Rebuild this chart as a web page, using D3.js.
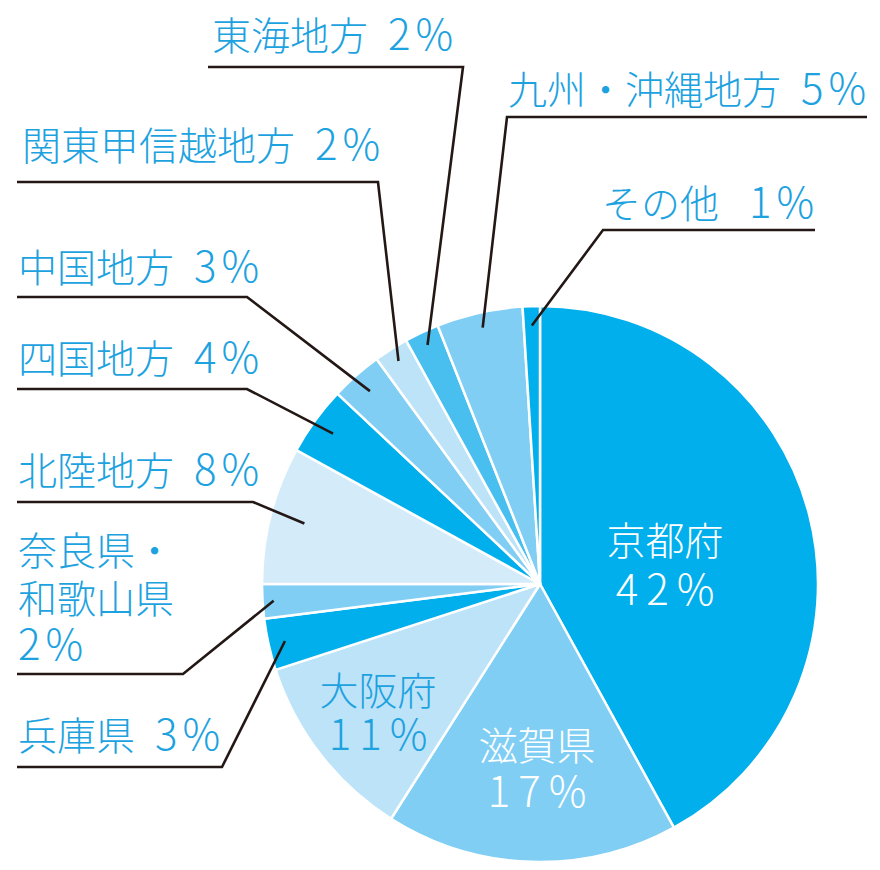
<!DOCTYPE html>
<html>
<head>
<meta charset="utf-8">
<script src="https://cdn.jsdelivr.net/npm/d3@7"></script>
<style>
  body { margin: 0; background: #fff; }
  text { font-family: "Noto Sans CJK JP", "Noto Sans", sans-serif; font-weight: 300; white-space: pre; }
</style>
</head>
<body>
<div id="pie"></div>
<script>
// data
const categories = ["京都府", "滋賀県", "大阪府", "兵庫県", "奈良県・和歌山県", "北陸地方",
                    "四国地方", "中国地方", "関東甲信越地方", "東海地方", "九州・沖縄地方", "その他"];
const values = [42, 17, 11, 3, 2, 8, 4, 3, 2, 2, 5, 1];
const colors = ["#00afec", "#80cef4", "#bde3f8", "#00afec", "#80cef4", "#d4ebf9",
                "#00afec", "#80cef4", "#bde3f8", "#48bfef", "#80cef4", "#00afec"];

const width = 880,
      height = 870,
      cx = 540, cy = 584,
      radius = 278,
      fontSize = 39,
      pctSize = 42;

// label layout: inside labels (x, y of first baseline) or leader labels
const layout = {
  "京都府":   { inside: true, x: 665, y: 555, gap: 50, fill: "#fff" },
  "滋賀県":   { inside: true, x: 537, y: 760, gap: 47, fill: "#fff" },
  "大阪府":   { inside: true, x: 378, y: 705, gap: 45, fill: "#1da2e0" },
  "兵庫県":   { tx: 18,  ty: 750, lineY: 767, elbowX: 222, endX: 17,  r: 0.94 },
  "奈良県・和歌山県": { tx: 18, ty: 565, lineY: 674, elbowX: 183, endX: 17, r: 0.96,
                 lines: ["奈良県・", "和歌山県"], gap: 47.5 },
  "北陸地方": { tx: 18,  ty: 485, lineY: 502, elbowX: 253, endX: 17,  r: 0.875 },
  "四国地方": { tx: 18,  ty: 373, lineY: 389, elbowX: 247, endX: 17,  r: 0.92 },
  "中国地方": { tx: 18,  ty: 282, lineY: 297, elbowX: 247, endX: 17,  r: 0.925 },
  "関東甲信越地方": { tx: 22, ty: 160, lineY: 182, elbowX: 378, endX: 17, r: 0.95 },
  "東海地方": { tx: 212, ty: 50,  lineY: 67,  elbowX: 463, endX: 208, r: 0.95 },
  "九州・沖縄地方": { tx: 508, ty: 104, lineY: 117, elbowX: 507, endX: 867, r: 0.945 },
  "その他":   { tx: 602, ty: 218, lineY: 230, elbowX: 603, endX: 815, r: 0.93, gapX: 30 }
};

const data = categories.map((c, i) => ({ name: c, value: values[i], color: colors[i] }));

let svg = d3.select("#pie")
    .append("svg")
    .attr("width", width)
    .attr("height", height);

let pie = d3.pie()
    .sort(null)
    .value(d => d.value);

let arc = d3.arc()
    .innerRadius(0)
    .outerRadius(radius);

let arcs = pie(data);

let g = svg.append("g")
    .attr("transform", `translate(${cx},${cy})`);

// slices
g.selectAll("path.slice")
    .data(arcs)
    .join("path")
    .attr("class", "slice")
    .attr("d", arc)
    .attr("fill", d => d.data.color)
    .attr("stroke", "#fff")
    .attr("stroke-width", 2.5)
    .attr("stroke-linejoin", "round");

// leader lines
let outside = arcs.filter(d => !layout[d.data.name].inside);

svg.selectAll("path.leader")
    .data(outside)
    .join("path")
    .attr("class", "leader")
    .attr("fill", "none")
    .attr("stroke", "#231815")
    .attr("stroke-width", 2.6)
    .attr("d", d => {
        let L = layout[d.data.name];
        let mid = (d.startAngle + d.endAngle) / 2;
        let px = cx + Math.sin(mid) * radius * L.r,
            py = cy - Math.cos(mid) * radius * L.r;
        return `M${px},${py}L${L.elbowX},${L.lineY}L${L.endX},${L.lineY}`;
    });

// outside labels
svg.selectAll("text.outer")
    .data(outside)
    .join("text")
    .attr("class", "outer")
    .attr("fill", "#1da2e0")
    .style("font-size", fontSize + "px")
    .each(function(d) {
        let L = layout[d.data.name];
        let t = d3.select(this);
        let pct = d.data.value + "%";
        if (L.lines) {
            L.lines.forEach((s, i) => {
                t.append("tspan")
                    .attr("x", L.tx)
                    .attr("y", L.ty + i * L.gap)
                    .text(s);
            });
            t.append("tspan")
                .attr("x", L.tx)
                .attr("y", L.ty + L.lines.length * L.gap)
                .attr("letter-spacing", 5)
                .style("font-size", pctSize + "px")
                .text(pct);
        } else {
            t.attr("x", L.tx).attr("y", L.ty);
            t.append("tspan").text(d.data.name);
            t.append("tspan")
                .attr("dx", L.gapX || 20)
                .attr("letter-spacing", 5)
                .style("font-size", pctSize + "px")
                .text(pct);
        }
    });

// inside labels
svg.selectAll("text.inner")
    .data(arcs.filter(d => layout[d.data.name].inside))
    .join("text")
    .attr("class", "inner")
    .attr("text-anchor", "middle")
    .style("font-size", fontSize + "px")
    .attr("fill", d => layout[d.data.name].fill)
    .each(function(d) {
        let L = layout[d.data.name];
        let t = d3.select(this);
        t.append("tspan").attr("x", L.x).attr("y", L.y).text(d.data.name);
        t.append("tspan").attr("x", L.x + 4).attr("y", L.y + L.gap)
            .attr("letter-spacing", 8)
            .style("font-size", pctSize + "px")
            .text(d.data.value + "%");
    });
</script>
</body>
</html>
